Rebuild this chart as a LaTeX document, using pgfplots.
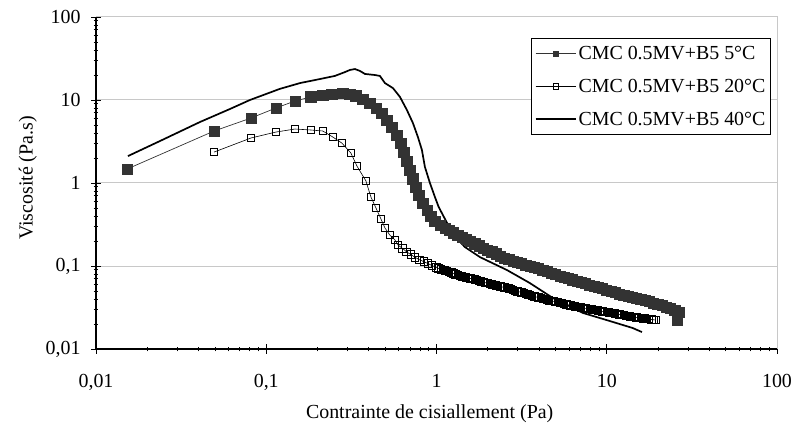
\documentclass[border=0pt]{standalone}
\usepackage{fontspec}
\setmainfont{Liberation Serif}
\usepackage{pgfplots}
\pgfplotsset{compat=1.18}
\definecolor{mk}{HTML}{333333}
\definecolor{gridgray}{HTML}{C8C8C8}
\begin{document}
\begin{tikzpicture}
\useasboundingbox (-96bp,-83bp) rectangle (697bp,349bp);
\begin{axis}[
  at={(0,0)}, anchor=south west,
  scale only axis, width=681bp, height=332bp,
  xmode=log, ymode=log,
  xmin=0.01, xmax=100, ymin=0.01, ymax=100,
  axis x line*=bottom, axis y line*=left,
  axis line style={black, line width=1.2bp, -},
  xtick={0.01,0.1,1,10,100}, xticklabels={{0,01},{0,1},1,10,100},
  ytick={0.01,0.1,1,10,100}, yticklabels={{0,01},{0,1},1,10,100},
  minor xtick={0.02,0.03,0.04,0.05,0.06,0.07,0.08,0.09,0.2,0.3,0.4,0.5,0.6,0.7,0.8,0.9,2,3,4,5,6,7,8,9,20,30,40,50,60,70,80,90},
  minor ytick={0.02,0.03,0.04,0.05,0.06,0.07,0.08,0.09,0.2,0.3,0.4,0.5,0.6,0.7,0.8,0.9,2,3,4,5,6,7,8,9,20,30,40,50,60,70,80,90},
  tick align=center, major tick length=10bp, minor tick length=5bp,
  tick style={black, line width=0.8bp},
  ymajorgrids, xmajorgrids=false,
  major grid style={gridgray, line width=1bp},
  ticklabel style={font=\fontsize{20}{23}\selectfont},
  xticklabel style={yshift=-17bp},
  yticklabel style={xshift=-7bp},
  xlabel={Contrainte de cisiallement (Pa)},
  ylabel={Viscosité (Pa.s)},
  label style={font=\fontsize{20}{23}\selectfont},
  xlabel style={at={(axis description cs:0.49,0)}, anchor=center, yshift=-65bp},
  ylabel style={at={(axis description cs:-0.1,0.515)}, anchor=center},
  legend style={at={(axis description cs:0.991,0.937)}, anchor=north east,
    draw=black, line width=0.8bp, font=\fontsize{20}{23}\selectfont,
    row sep=14bp, inner xsep=3bp, inner ysep=6bp, cells={anchor=west}},
  legend image code/.code={\draw[mark repeat=2, mark phase=2, #1] plot coordinates {(0bp,0bp) (20bp,0bp) (40bp,0bp)};},
  legend image post style={mark size=2.6pt},
  after end axis/.code={\draw[gridgray, line width=1bp] (rel axis cs:0,1) -- (rel axis cs:1,1) -- (rel axis cs:1,0);},
]
% CMC 0.5MV+B5 5C
\addplot[mk, line width=0.7bp, mark=square*, mark size=5.1pt, mark options={fill=mk, draw=mk, solid}] coordinates {
(0.0152,1.47) (0.0494,4.23) (0.0815,6.07) (0.114,8.01) (0.1475,9.72) (0.183,10.9) (0.215,11.5) (0.243,11.6) (0.282,12.1) (0.310,11.8) (0.336,11.2) (0.369,10.3) (0.406,9.2) (0.441,8.0) (0.478,6.97) (0.511,5.74) (0.547,4.73) (0.585,3.79) (0.618,3.03) (0.643,2.36) (0.670,1.84) (0.698,1.43) (0.727,1.12) (0.757,0.895) (0.788,0.717) (0.832,0.574) (0.879,0.473) (0.927,0.400) (0.979,0.348)
(1.059,0.308) (1.122,0.286) (1.189,0.267) (1.259,0.251) (1.334,0.236) (1.413,0.223) (1.496,0.209) (1.585,0.196) (1.679,0.185) (1.778,0.175) (1.884,0.165) (1.995,0.156) (2.113,0.148) (2.239,0.140) (2.371,0.132) (2.512,0.125) (2.661,0.119) (2.818,0.115) (2.985,0.111) (3.162,0.107) (3.350,0.103) (3.548,0.0998) (3.758,0.0962) (3.981,0.0931) (4.217,0.0893) (4.467,0.0857) (4.732,0.0820) (5.012,0.0787) (5.309,0.0759) (5.623,0.0731) (5.957,0.0705) (6.310,0.0681) (6.683,0.0656) (7.079,0.0632) (7.499,0.0612) (7.943,0.0590) (8.414,0.0571) (8.913,0.0551) (9.441,0.0533) (10.00,0.0514) (10.59,0.0495) (11.22,0.0479) (11.89,0.0460) (12.59,0.0445) (13.34,0.0433) (14.13,0.0421) (14.96,0.0408) (15.85,0.0397) (16.79,0.0384) (17.78,0.0371) (18.84,0.0358) (19.95,0.0346) (21.13,0.0333) (22.39,0.0321) (23.71,0.0310) (25.12,0.0292) (26.61,0.0279) (26.0,0.0224)
};
\addlegendentry{CMC 0.5MV+B5 5°C}
% CMC 0.5MV+B5 20C
\addplot[black, line width=0.6bp, mark=square, mark size=3.7pt, mark options={draw=black, solid, line width=1bp}] coordinates {
(0.0494,2.36) (0.0815,3.49) (0.114,4.11) (0.1475,4.47) (0.183,4.35) (0.215,4.23) (0.246,3.58) (0.278,3.03) (0.314,2.30) (0.341,1.60) (0.385,1.06) (0.412,0.678) (0.441,0.500) (0.472,0.368) (0.498,0.287) (0.532,0.236) (0.570,0.206)
(0.596,0.178) (0.631,0.163) (0.668,0.148) (0.708,0.137) (0.750,0.127) (0.794,0.119) (0.841,0.113) (0.891,0.107) (0.944,0.101)
(1.000,0.0959) (1.029,0.0935) (1.059,0.0912) (1.090,0.0897) (1.122,0.0883) (1.155,0.0867) (1.189,0.0851) (1.223,0.0833) (1.259,0.0815) (1.296,0.0794) (1.334,0.0774) (1.372,0.0760) (1.413,0.0746) (1.454,0.0736) (1.496,0.0726) (1.540,0.0716) (1.585,0.0706) (1.631,0.0695) (1.679,0.0685) (1.728,0.0674) (1.778,0.0664) (1.830,0.0652) (1.884,0.0640) (1.939,0.0629) (1.995,0.0619) (2.054,0.0608) (2.113,0.0598) (2.176,0.0590) (2.239,0.0582) (2.304,0.0574) (2.371,0.0566) (2.441,0.0558) (2.512,0.0551) (2.585,0.0543) (2.661,0.0535) (2.738,0.0524) (2.818,0.0514) (2.901,0.0504) (2.985,0.0495) (3.073,0.0487) (3.162,0.0479) (3.255,0.0470) (3.350,0.0461) (3.447,0.0453) (3.548,0.0445) (3.652,0.0437) (3.758,0.0430) (3.868,0.0423) (3.981,0.0416) (4.097,0.0409) (4.217,0.0403) (4.340,0.0397) (4.467,0.0392) (4.597,0.0386) (4.732,0.0381) (4.870,0.0376) (5.012,0.0371) (5.158,0.0366) (5.309,0.0361) (5.464,0.0356) (5.623,0.0351) (5.788,0.0345) (5.957,0.0340) (6.131,0.0335) (6.310,0.0330) (6.494,0.0326) (6.683,0.0322) (6.879,0.0319) (7.079,0.0316) (7.286,0.0312) (7.499,0.0309) (7.718,0.0306) (7.943,0.0303) (8.175,0.0300) (8.414,0.0297) (8.660,0.0294) (8.913,0.0291) (9.173,0.0287) (9.441,0.0284) (9.716,0.0281) (10.00,0.0279) (10.29,0.0276) (10.59,0.0273) (10.90,0.0270) (11.22,0.0267) (11.55,0.0264) (11.89,0.0261) (12.23,0.0258) (12.59,0.0255) (12.96,0.0252) (13.34,0.0250) (13.72,0.0247) (14.13,0.0244) (14.54,0.0242) (14.96,0.0240) (15.40,0.0238) (15.85,0.0236) (16.31,0.0234) (16.79,0.0232) (17.28,0.0230) (17.78,0.0229) (18.30,0.0227) (18.84,0.0225) (19.4,0.0223)
};
\addlegendentry{CMC 0.5MV+B5 20°C}
% CMC 0.5MV+B5 40C
\addplot[black, line width=1.7bp, no marks] coordinates {
(0.0154,2.11) (0.0238,3.21) (0.0408,5.43) (0.0612,7.79) (0.0802,10.0) (0.120,13.6) (0.158,16.0) (0.207,17.9) (0.253,19.5) (0.290,21.7) (0.310,23.0) (0.332,23.6) (0.355,22.4) (0.380,20.6) (0.435,20.0) (0.465,19.5) (0.498,16.0) (0.555,13.9) (0.610,10.9) (0.670,7.58) (0.727,5.28) (0.778,3.58) (0.821,2.50) (0.855,1.56) (0.915,1.00) (0.979,0.678) (1.03,0.514) (1.09,0.412) (1.17,0.312) (1.25,0.243) (1.34,0.206) (1.47,0.169) (1.80,0.128) (2.59,0.0895) (3.53,0.0624) (4.83,0.0411) (7.24,0.0272) (10.0,0.0223) (14.2,0.0179) (16.1,0.0160)
};
\addlegendentry{CMC 0.5MV+B5 40°C}
\end{axis}
\end{tikzpicture}
\end{document}
